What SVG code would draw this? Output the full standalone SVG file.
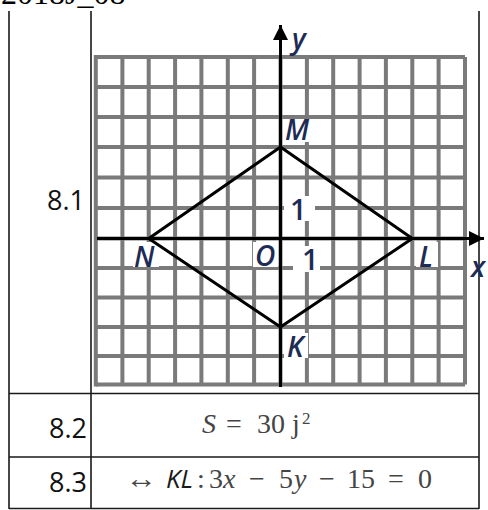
<svg xmlns="http://www.w3.org/2000/svg" width="488" height="510" viewBox="0 0 488 510">
<style>
.grid{stroke:#7a7a7a;stroke-width:4;fill:none}
.tbl{stroke:#1a1a1a;stroke-width:1.6;fill:none}
.ax{stroke:#000;stroke-width:3;fill:none}
.rh{stroke:#000;stroke-width:3;fill:none;stroke-linejoin:round}
.bg{fill:#fff}
.lbl{font-family:"Open Sans","Liberation Sans",Arial,sans-serif;font-style:italic;font-weight:600;font-size:28px;fill:#1d2b55}
.num{font-family:"Open Sans","Liberation Sans",Arial,sans-serif;font-weight:600;font-size:29px;fill:#1d2b55}
.row{font-family:"Open Sans","Liberation Sans",Arial,sans-serif;font-size:27px;fill:#111;text-anchor:end}
.math{font-family:"Liberation Serif","Times New Roman",serif;font-size:28px;fill:#454545}
.hdr{font-family:"Liberation Serif","Times New Roman",serif;font-size:32px;fill:#000}
</style>
<defs>
<marker id="ah" viewBox="0 0 10 10" refX="10" refY="5" markerWidth="6" markerHeight="5" markerUnits="strokeWidth" orient="auto">
<path d="M0,0 L10,5 L0,10 z" fill="#000"/>
</marker>
</defs>
<rect width="488" height="510" fill="#fff"/>
<text class="hdr" x="1" y="4">2018J_08</text>

<g id="table">
<path class="tbl" d="M9,11 V509 M91,11 V509 M479,11 V509 M9,393.5 H479 M9,457 H479 M9,508.5 H479"/>
<text class="row" x="85" y="210">8.1</text>
<text class="row" x="87" y="438">8.2</text>
<text class="row" x="87" y="492">8.3</text>
</g>

<g id="grid">
<path class="grid" d="M122.4,57 V384.5 M148.7,57 V384.5 M175.1,57 V384.5 M201.4,57 V384.5 M227.8,57 V384.5 M254.1,57 V384.5 M280.5,57 V384.5 M306.9,57 V384.5 M333.2,57 V384.5 M359.6,57 V384.5 M385.9,57 V384.5 M412.3,57 V384.5 M438.6,57 V384.5 M465,57 V384.5
M96,57 H465 M96,87 H465 M96,117 H465 M96,147 H465 M96,177.5 H465 M96,208 H465 M96,238.5 H465 M96,268 H465 M96,297.5 H465 M96,327 H465 M96,356 H465 M96,384.5 H465"/>
<path class="grid" stroke-width="6.5" d="M95.8,55 V386.5"/>
</g>

<g id="label-bgs">
<rect class="bg" x="284" y="120" width="29" height="22"/>
<rect class="bg" x="284" y="196" width="31" height="25"/>
<rect class="bg" x="133" y="242" width="26" height="25"/>
<rect class="bg" x="253" y="242" width="25" height="25"/>
<rect class="bg" x="293" y="246" width="27" height="26"/>
<rect class="bg" x="416" y="242" width="22" height="25"/>
<rect class="bg" x="284" y="333" width="24" height="25"/>
</g>

<g id="connectors">
<line class="ax" x1="97" y1="238.5" x2="484" y2="238.5" marker-end="url(#ah)"/>
<line class="ax" x1="280.5" y1="387" x2="280.5" y2="25" marker-end="url(#ah)"/>
<path class="rh" d="M280.5,147 L412.3,238.5 L280.5,327 L148.7,238.5 Z"/>
</g>

<g id="axis-x"><text class="lbl" x="471" y="277">x</text></g>
<g id="axis-y"><text class="lbl" x="292" y="49">y</text></g>
<g id="node-M"><text class="lbl" x="285" y="140">M</text></g>
<g id="node-N"><text class="lbl" x="134" y="267">N</text></g>
<g id="node-O"><text class="lbl" x="255" y="266">O</text></g>
<g id="node-L"><text class="lbl" x="419" y="267">L</text></g>
<g id="node-K"><text class="lbl" x="287" y="357">K</text></g>
<g id="tick-y1"><text class="num" x="290" y="220">1</text></g>
<g id="tick-x1"><text class="num" x="302" y="270">1</text></g>

<g id="row-8-2">
<text class="math"><tspan x="202" y="433" font-style="italic">S</tspan><tspan x="226" y="433">=</tspan><tspan x="257" y="433">30</tspan><tspan x="292" y="433">j</tspan><tspan x="302" y="424" font-size="17">2</tspan></text>
</g>
<g id="row-8-3">
<text class="math" x="125" y="488" textLength="32" lengthAdjust="spacingAndGlyphs">↔</text>
<text x="166" y="488" font-family="Open Sans, Liberation Sans, Arial, sans-serif" font-style="italic" font-size="26" fill="#1a1a1a">KL</text>
<text class="math"><tspan x="197" y="488">:</tspan><tspan x="209" y="488">3</tspan><tspan x="223" y="488" font-style="italic">x</tspan><tspan x="249" y="488">−</tspan><tspan x="279" y="488">5</tspan><tspan x="294" y="488" font-style="italic">y</tspan><tspan x="319" y="488">−</tspan><tspan x="347" y="488">15</tspan><tspan x="388" y="488">=</tspan><tspan x="418" y="488">0</tspan></text>
</g>
</svg>
